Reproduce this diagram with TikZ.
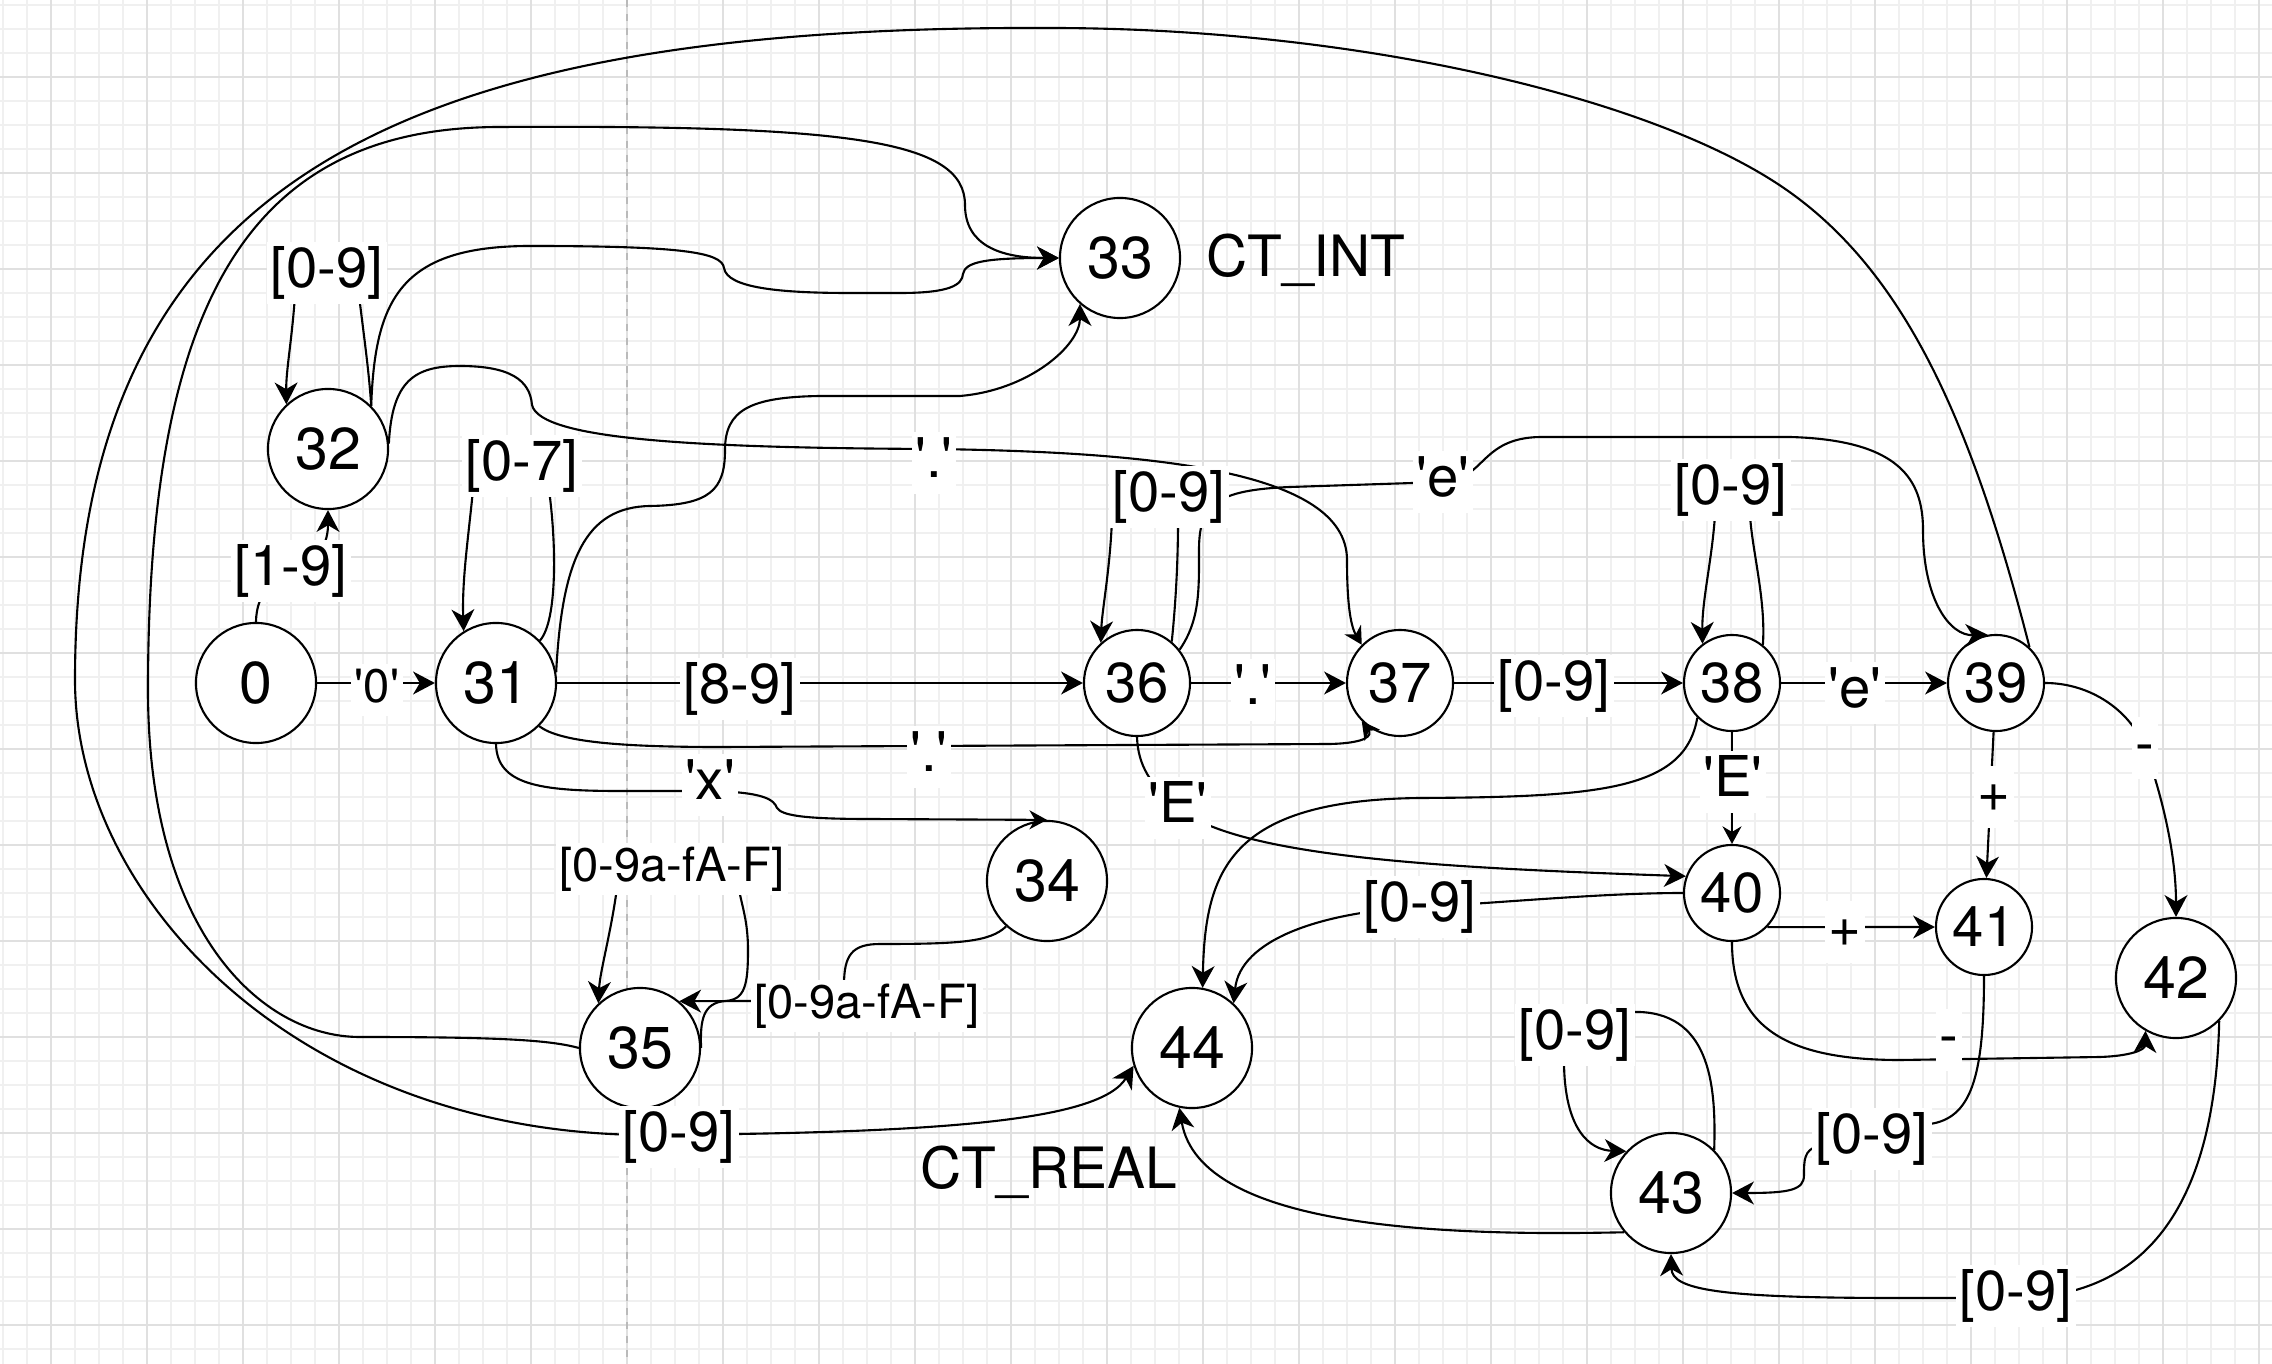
\documentclass[tikz,border=0pt]{standalone}
\usepackage{fontspec}
\setmainfont{TeX Gyre Heros}[Ligatures=TeXOff]
\usetikzlibrary{arrows.meta}

\begin{document}
\begin{tikzpicture}[x=0.01cm,y=-0.01cm,line width=0.6pt,
  state/.style={draw,circle,fill=white,inner sep=0,minimum size=1.2cm,
    font=\fontsize{16.8}{20}\selectfont,text height=11.8pt,text depth=0pt},
  midstate/.style={state,minimum size=1.06cm,font=\fontsize{16}{19}\selectfont,text height=11.3pt},
  smallstate/.style={state,minimum size=0.96cm,font=\fontsize{16}{19}\selectfont,text height=11.3pt},
  lbl/.style={fill=white,inner sep=1pt,font=\fontsize{16}{19}\selectfont,text height=12pt,text depth=3.5pt},
  smalllbl/.style={lbl,font=\fontsize{13.4}{16}\selectfont,text height=10pt,text depth=2.9pt},
  ctext/.style={inner sep=1pt,font=\fontsize{16.2}{19}\selectfont,text height=12.1pt,text depth=3.6pt},
  trans/.style={-{Stealth[length=6.2pt,width=6.5pt,inset=1.9pt]}},
  thintrans/.style={-{Stealth[length=5pt,width=5.4pt,inset=1.6pt]}},
  minorgrid/.style={black!6,line width=0.4pt},
  majorgrid/.style={black!12,line width=0.5pt}]
  \useasboundingbox (0,0) rectangle (2272,1364);
  % background grid
  \fill[white] (0,0) rectangle (2272,1364);
  \foreach \x in {3,27,...,2272} \draw[minorgrid] (\x,0) -- (\x,1364);
  \foreach \y in {5,29,...,1364} \draw[minorgrid] (0,\y) -- (2272,\y);
  \foreach \x in {51,147,...,2272} \draw[majorgrid] (\x,0) -- (\x,1364);
  \foreach \y in {77,173,...,1364} \draw[majorgrid] (0,\y) -- (2272,\y);
  \draw[black!27,dash pattern=on 2pt off 2pt] (627,0) -- (627,1364);

  % states
  \node[state] (n0) at (256,683) {0};
  \node[state] (n31) at (496,683) {31};
  \node[state] (n32) at (328,449) {32};
  \node[state] (n33) at (1120,258) {33};
  \node[state] (n34) at (1047,881) {34};
  \node[state] (n35) at (640,1048) {35};
  \node[midstate] (n36) at (1137,683) {36};
  \node[midstate] (n37) at (1400,683) {37};
  \node[smallstate] (n38) at (1732,683) {38};
  \node[smallstate] (n39) at (1996,683) {39};
  \node[smallstate] (n40) at (1732,893) {40};
  \node[smallstate] (n41) at (1984,927) {41};
  \node[state] (n42) at (2176,978) {42};
  \node[state] (n43) at (1671,1193) {43};
  \node[state] (n44) at (1192,1048) {44};
  \node[ctext] (ctint) at (1306,262) {CT\_INT};
  \node[ctext] (ctreal) at (1049,1174) {CT\_REAL};

  % transitions
  \draw[trans] (n0.north) .. controls (257,560) and (328,580) .. (n32.south);
  \draw[trans] (n0) -- (n31);
  \draw[trans] (n31.44) .. controls (558,620) and (556,540) .. (549,490) .. controls (548,440) and (473,440) .. (473,490) .. controls (468,540) and (462,580) .. (n31.122);
  \draw[trans] (n31) -- (n36);
  \draw[trans] (n31.10) .. controls (562,560) and (585,507) .. (650,506) .. controls (710,505) and (725,490) .. (725,450) .. controls (725,410) and (750,397) .. (820,396) -- (960,396) .. controls (1030,390) and (1080,345) .. (n33.229);
  \draw[thintrans] (n31.-45) .. controls (560,742) and (620,747) .. (720,747) -- (1330,744) .. controls (1368,743) and (1372,735) .. (n37.225);
  \draw[thintrans] (n31.south) .. controls (497,785) and (540,791) .. (620,791) -- (710,791) .. controls (765,792) and (774,800) .. (777,808) .. controls (782,815) and (800,819) .. (870,819) -- (n34.north);
  \draw[trans] (n32.45) .. controls (369,370) and (363,330) .. (359,295) .. controls (355,250) and (296,250) .. (295,295) .. controls (292,340) and (286,370) .. (n32.133);
  \draw[trans] (n32.45) .. controls (375,300) and (400,246) .. (530,246) .. controls (680,246) and (722,252) .. (724,268) .. controls (727,288) and (780,293) .. (850,293) -- (900,293) .. controls (950,293) and (962,285) .. (963,274) .. controls (965,262) and (985,258) .. (n33.west);
  \draw[thintrans] (n32.5) .. controls (392,380) and (415,366) .. (460,366) .. controls (510,366) and (530,380) .. (532,405) .. controls (540,440) and (700,448) .. (934,449) .. controls (1150,452) and (1347,470) .. (1347,560) .. controls (1347,600) and (1350,625) .. (n37.135);
  \draw[trans] (n34.228) .. controls (990,942) and (960,944) .. (880,944) .. controls (852,944) and (844,955) .. (844,985) -- (844,1001) -- (757,1001) -- (n35.50);
  \draw[trans] (n35.east) .. controls (700,1020) and (703,1003) .. (725,1001) .. controls (745,1000) and (748,985) .. (748,950) .. controls (748,915) and (739,900) .. (738,880) .. controls (738,850) and (618,850) .. (618,880) .. controls (612,930) and (600,970) .. (n35.133);
  \draw[trans] (n35.west) .. controls (550,1040) and (500,1037) .. (360,1037) .. controls (260,1037) and (148,930) .. (148,690) .. controls (148,300) and (250,127) .. (500,127) .. controls (850,125) and (965,140) .. (965,205) .. controls (965,245) and (1000,258) .. (n33.west);
  \draw[trans] (n36.50) .. controls (1176,600) and (1178,560) .. (1178,520) .. controls (1178,475) and (1112,475) .. (1112,519) .. controls (1110,570) and (1102,610) .. (n36.132);
  \draw[trans] (n36) -- (n37);
  \draw[trans] (n36.38) .. controls (1200,620) and (1199,590) .. (1199,550) .. controls (1199,505) and (1215,490) .. (1290,487) -- (1443,482) .. controls (1485,480) and (1480,438) .. (1540,437) -- (1790,437) .. controls (1900,440) and (1923,480) .. (1923,530) .. controls (1923,600) and (1950,636) .. (n39.100);
  \draw[trans] (n36.south) .. controls (1138,765) and (1150,785) .. (1178,808) .. controls (1240,858) and (1450,868) .. (n40.160);
  \draw[trans] (n37) -- (n38);
  \draw[trans] (n38.51) .. controls (1766,600) and (1752,550) .. (1750,515) .. controls (1748,475) and (1716,475) .. (1715,515) .. controls (1712,560) and (1702,600) .. (n38.127);
  \draw[trans] (n38) -- (n39);
  \draw[thintrans] (n38) -- (n40);
  \draw[trans] (n38.225) .. controls (1685,790) and (1600,797) .. (1420,798) .. controls (1230,800) and (1205,870) .. (n44.80);
  \draw[trans] (n39) -- (n41);
  \draw[trans] (n39.east) .. controls (2090,683) and (2130,710) .. (2145,748) .. controls (2160,790) and (2176,850) .. (n42.north);
  \draw[trans] (n39.47) .. controls (1968,407) and (1897,258) .. (1770,179) .. controls (1634,94) and (1350,28) .. (1050,28) .. controls (400,25) and (75,180) .. (75,680) .. controls (75,900) and (300,1135) .. (650,1135) .. controls (950,1133) and (1100,1120) .. (n44.197);
  \draw[trans] (n40.-44) -- (n41.west);
  \draw[trans] (n40.south) .. controls (1732,1030) and (1790,1060) .. (1900,1060) -- (2100,1057) .. controls (2130,1056) and (2145,1050) .. (n42.240);
  \draw[trans] (n40.west) .. controls (1600,893) and (1500,903) .. (1420,907) .. controls (1320,912) and (1240,940) .. (n44.47);
  \draw[trans] (n41.south) .. controls (1984,1080) and (1970,1118) .. (1930,1124) -- (1872,1139) -- (1818,1146) .. controls (1804,1150) and (1804,1160) .. (1804,1175) .. controls (1804,1190) and (1790,1193) .. (n43.east);
  \draw[trans] (n42.-45) .. controls (2215,1200) and (2150,1298) .. (2014,1298) -- (1900,1298) .. controls (1720,1298) and (1672,1290) .. (n43.south);
  \draw[trans] (n43.45) .. controls (1716,1090) and (1712,1015) .. (1640,1012) .. controls (1590,1012) and (1564,1025) .. (1564,1060) .. controls (1564,1130) and (1590,1150) .. (n43.137);
  \draw[trans] (n43.220) .. controls (1450,1236) and (1200,1230) .. (n44.258);

  % labels
  \node[lbl] (l19) at (291,571) {[1-9]};
  \node[smalllbl] (l0) at (377,690) {'0'};
  \node[lbl] (l07) at (522,466) {[0-7]};
  \node[lbl] (l09a) at (327,273) {[0-9]};
  \node[lbl] (ldot1) at (934,463) {'.'};
  \node[lbl] (l89) at (740,689) {[8-9]};
  \node[lbl] (ldot2) at (929,757) {'.'};
  \node[lbl] (lx) at (710,785) {'x'};
  \node[smalllbl] (lhex1) at (672,869) {[0-9a-fA-F]};
  \node[smalllbl] (lhex2) at (867,1006) {[0-9a-fA-F]};
  \node[lbl] (l09b) at (1169,497) {[0-9]};
  \node[lbl] (ldot3) at (1253,690) {'.'};
  \node[lbl] (le1) at (1443,482) {'e'};
  \node[lbl] (lE1) at (1178,808) {'E'};
  \node[lbl] (l09c) at (1554,686) {[0-9]};
  \node[lbl] (l09d) at (1731,490) {[0-9]};
  \node[lbl] (le2) at (1855,693) {'e'};
  \node[lbl] (lE2) at (1733,782) {'E'};
  \node[lbl] (lplus1) at (1994,797) {+};
  \node[lbl] (lminus1) at (2145,748) {-};
  \node[lbl] (lplus2) at (1845,932) {+};
  \node[lbl] (lminus2) at (1949,1040) {-};
  \node[lbl] (l09e) at (1420,907) {[0-9]};
  \node[lbl] (l09f) at (1872,1139) {[0-9]};
  \node[lbl] (l09g) at (1575,1035) {[0-9]};
  \node[lbl] (l09h) at (2016,1296) {[0-9]};
  \node[lbl] (l09i) at (679,1137) {[0-9]};
\end{tikzpicture}
\end{document}
